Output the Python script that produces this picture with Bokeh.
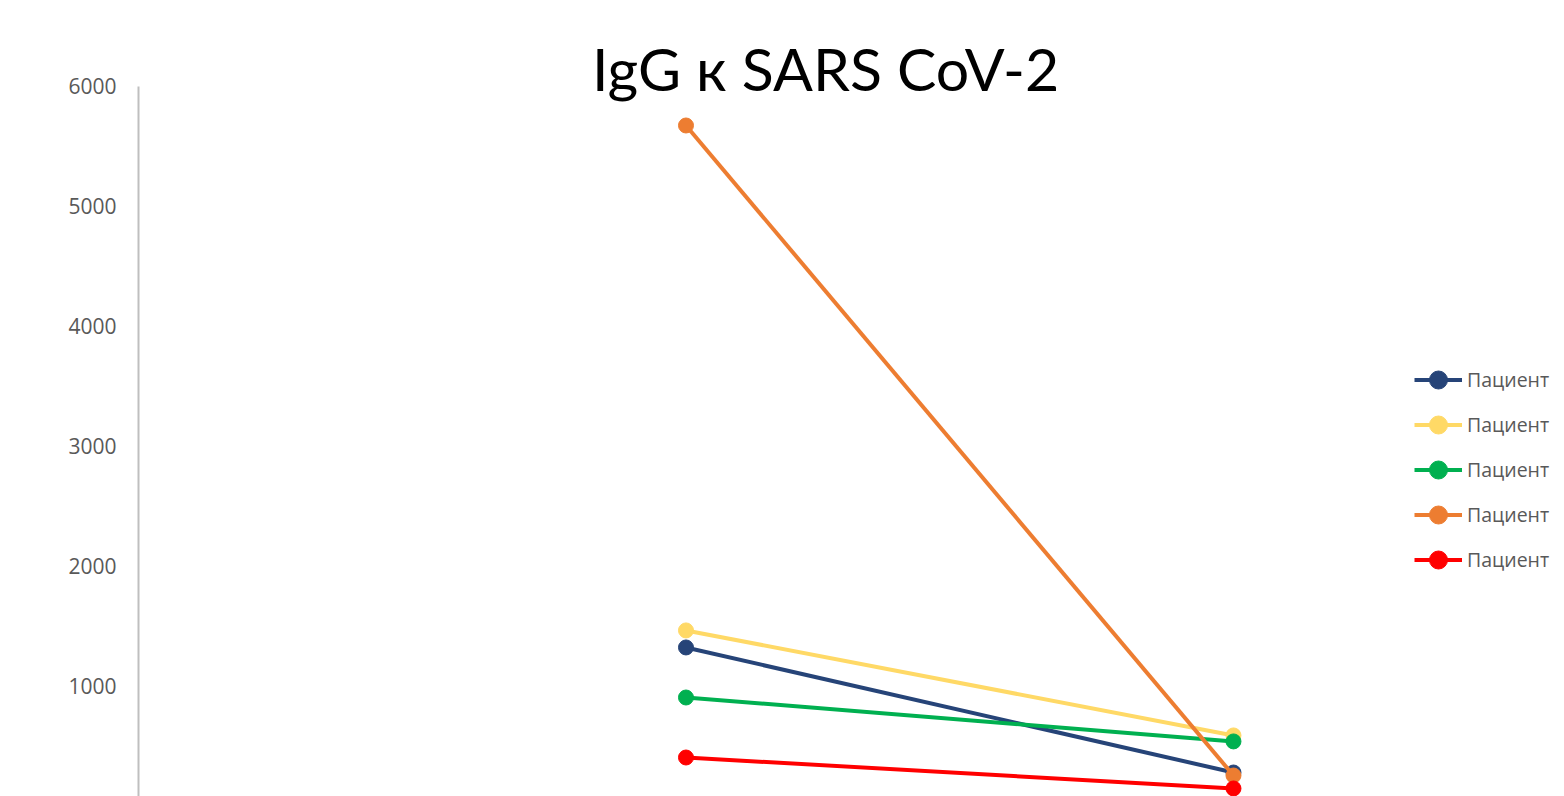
from bokeh.plotting import figure
from bokeh.models import Range1d, FixedTicker, Legend, LegendItem, Label
from bokeh.embed import file_html
from bokeh.resources import INLINE

# ---- data ----
visits = [1, 2]
series_names = ["Пациент", "Пациент", "Пациент", "Пациент", "Пациент"]
patient_a = [1325, 283]
patient_b = [1467, 592]
patient_c = [908, 542]
patient_d = [5675, 258]
patient_e = [408, 150]
y_ticks = [1000, 2000, 3000, 4000, 5000, 6000]
title_text = "IgG к SARS CoV-2"

series = [patient_a, patient_b, patient_c, patient_d, patient_e]
colors = ["#264478", "#FFD966", "#00B050", "#ED7D31", "#FF0000"]

Y0, Y1 = 83, 6550
p = figure(width=1556, height=796, output_backend="svg", toolbar_location=None,
           x_range=Range1d(0, 2.590), y_range=Range1d(Y0, Y1),
           x_axis_type=None)
p.min_border_left = 138
p.min_border_right = 0
p.min_border_top = 20
p.min_border_bottom = 0
p.outline_line_color = None
p.xgrid.visible = False
p.ygrid.visible = False
p.background_fill_color = "white"
p.border_fill_color = "white"

ax = p.yaxis[0]
ax.ticker = FixedTicker(ticks=y_ticks)
ax.bounds = (Y0, max(y_ticks))
ax.axis_line_color = "#BFBFBF"
ax.axis_line_width = 2
ax.major_tick_line_color = None
ax.minor_tick_line_color = None
ax.major_label_text_font = "Open Sans"
ax.major_label_text_font_size = "21px"
ax.major_label_text_color = "#595959"
ax.major_label_standoff = 16

items = []
for name, vals, c in zip(series_names, series, colors):
    r1 = p.line(visits, vals, line_color=c, line_width=4)
    r2 = p.scatter(visits, vals, size=15, fill_color=c, line_color=c)
    items.append(LegendItem(label=name, renderers=[r1, r2]))

legend = Legend(items=items, location=(1276, 214))
legend.padding = 0
legend.margin = 0
legend.spacing = 0
legend.border_line_color = None
legend.background_fill_alpha = 0
legend.glyph_width = 48
legend.glyph_height = 45
legend.label_height = 45
legend.label_standoff = 5
legend.label_text_font = "Open Sans"
legend.label_text_font_size = "19.5px"
legend.label_text_color = "#595959"
p.add_layout(legend)

title = Label(x=1.255, y=6150, text=title_text, text_align="center",
              text_baseline="alphabetic", text_font="Lato",
              text_font_size="59px", text_color="black")
p.add_layout(title)

open("out.html", "w").write(file_html(p, INLINE))
